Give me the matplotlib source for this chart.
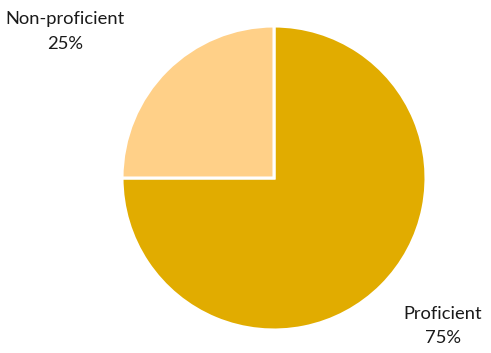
import matplotlib.pyplot as plt

plt.rcParams['font.family'] = ['Lato', 'DejaVu Sans']

labels = ['Proficient', 'Non-proficient']
values = [75, 25]
colors = ['#E1AC00', '#FFD088']

fig = plt.figure(figsize=(4.91, 3.53), dpi=100)
r = 152
cx, cy = 274, 178
ax = fig.add_axes([(cx - r) / 491, (353 - cy - r) / 353, 2 * r / 491, 2 * r / 353])
ax.pie(values, colors=colors, startangle=90, counterclock=False, radius=1,
       wedgeprops=dict(edgecolor='white', linewidth=2.2))
ax.set_xlim(-1, 1)
ax.set_ylim(-1, 1)
ax.set_aspect('equal')
ax.axis('off')

# label positions
ax.text(-1.375, 0.965, 'Non-proficient\n25%', ha='center', va='center',
        fontsize=13.2, linespacing=1.65, color='#1a1a1a', clip_on=False)
ax.text(1.11, -0.975, 'Proficient\n75%', ha='center', va='center',
        fontsize=13.2, linespacing=1.65, color='#1a1a1a', clip_on=False)

fig.savefig('out.png', dpi=100)
